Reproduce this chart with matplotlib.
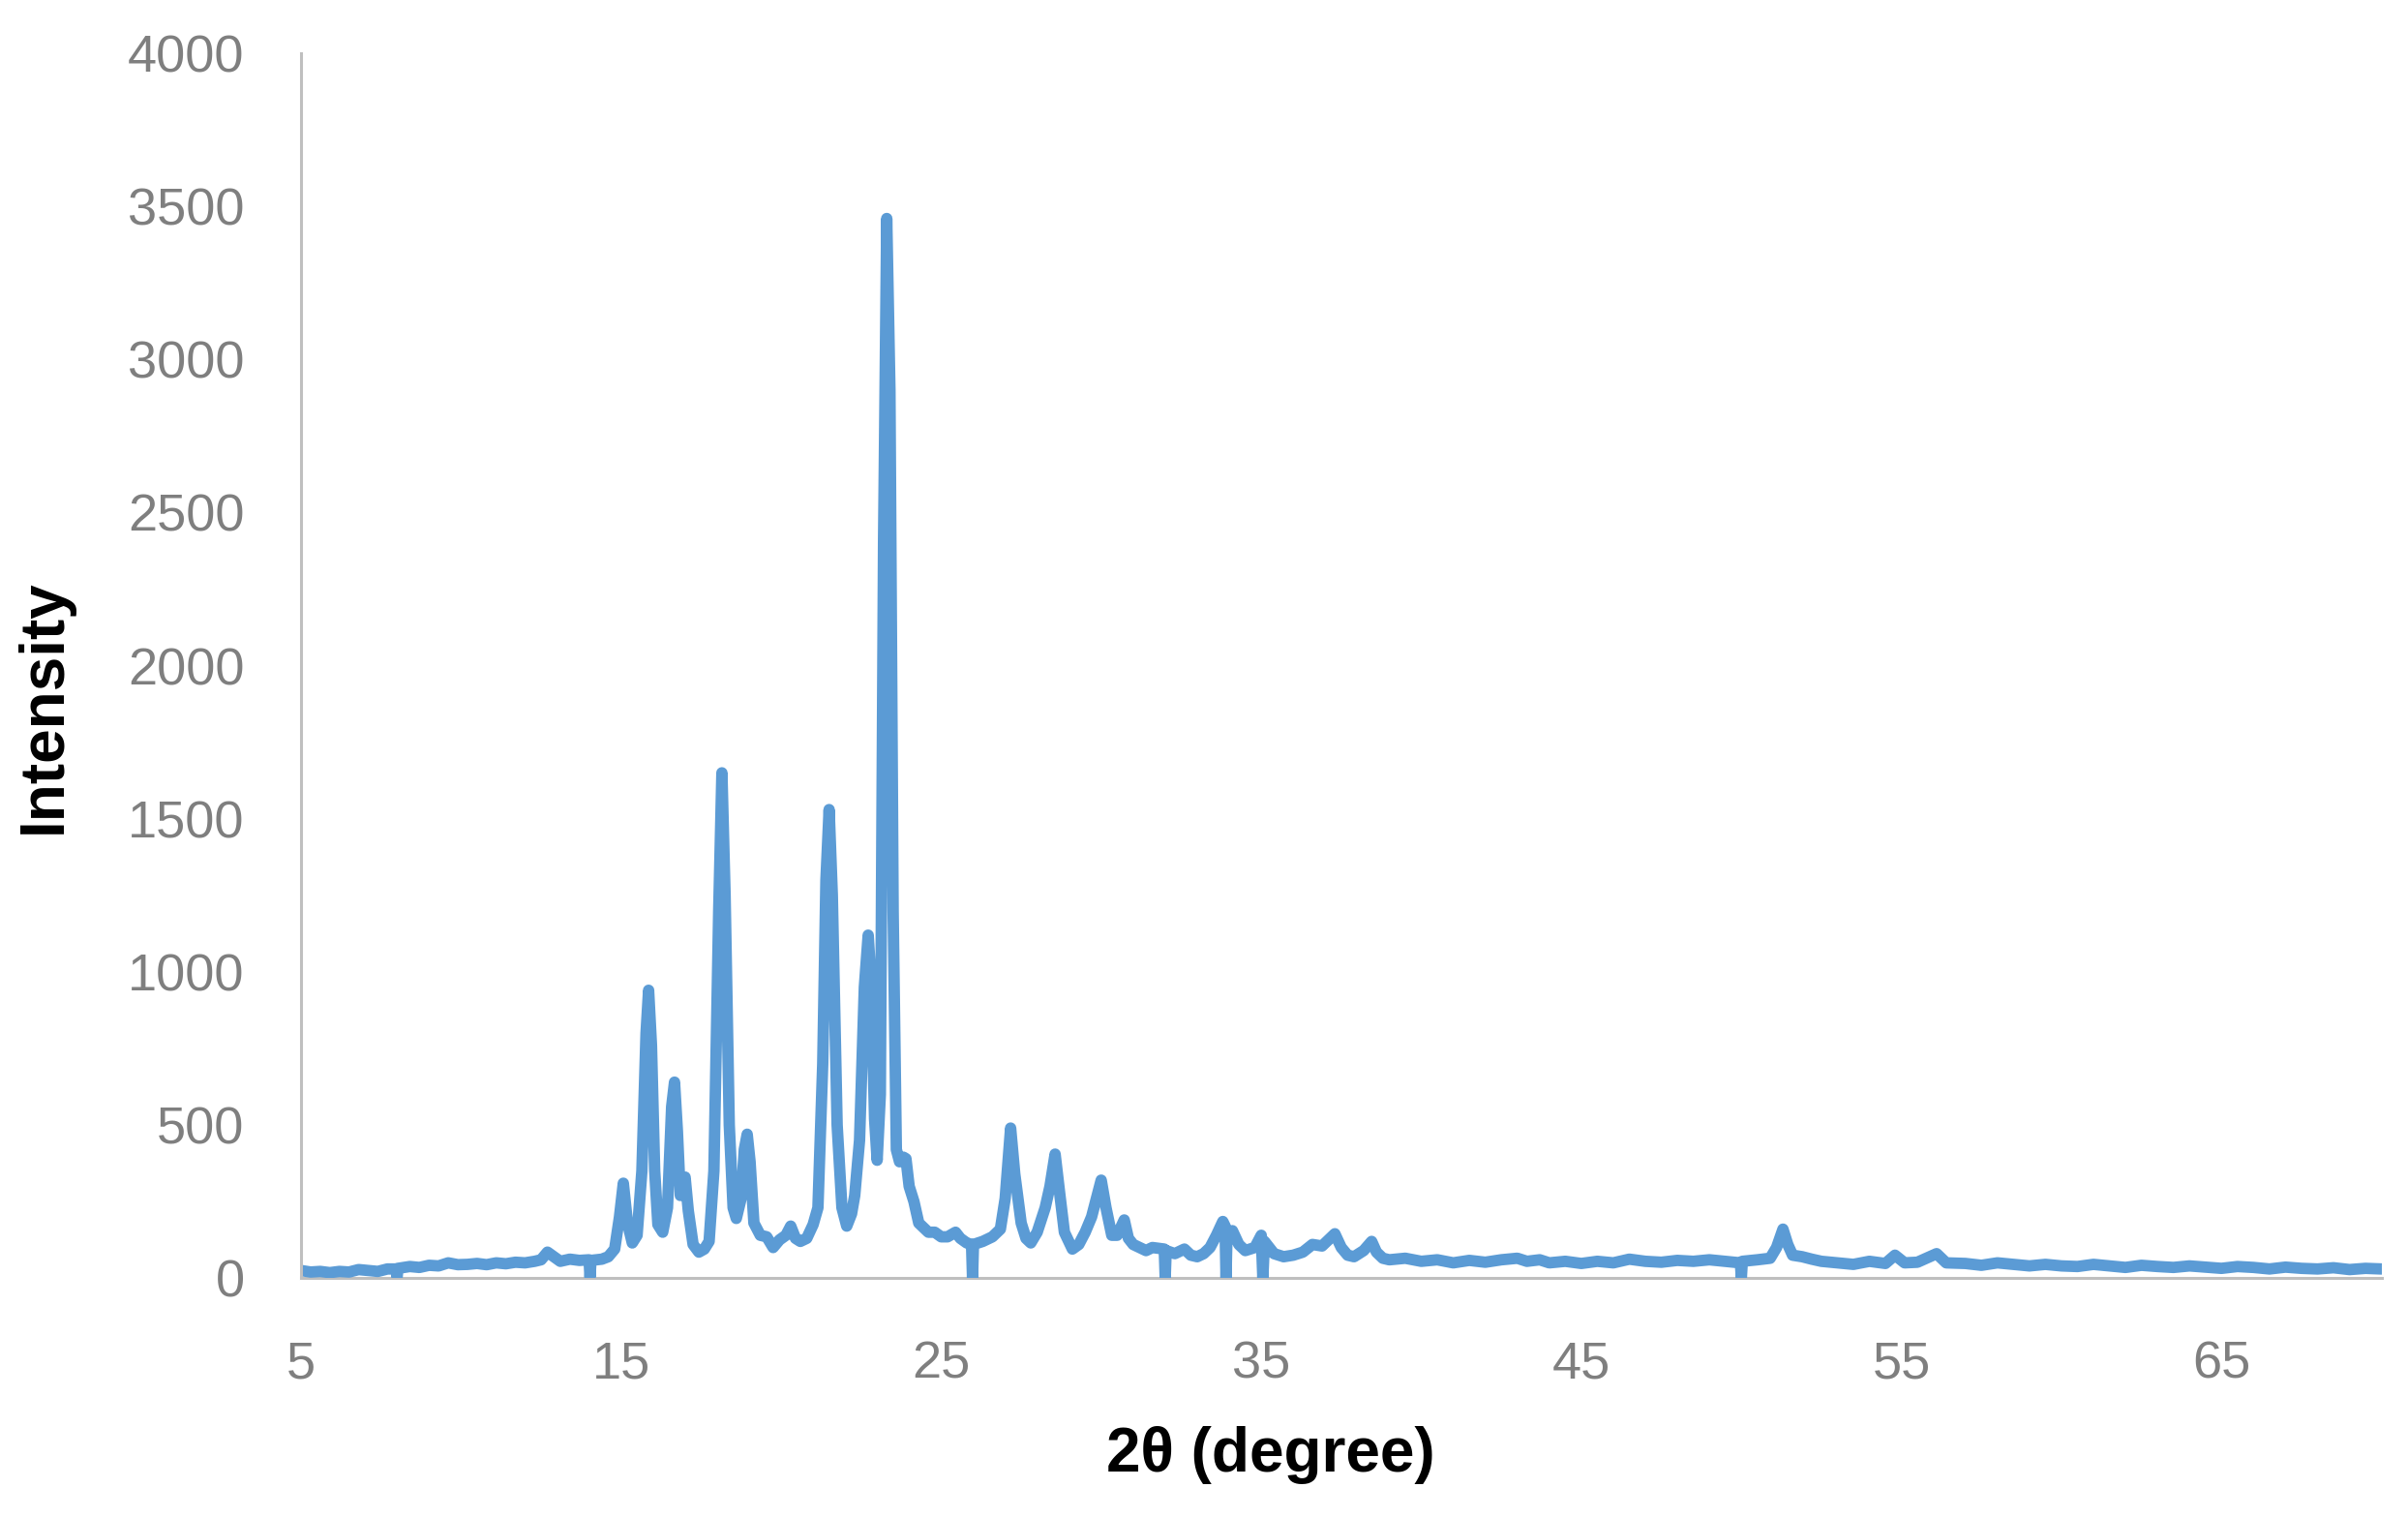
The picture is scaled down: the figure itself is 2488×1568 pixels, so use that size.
import numpy as np
import matplotlib
matplotlib.use('Agg')
import matplotlib.pyplot as plt

plt.rcParams['font.family'] = ['Liberation Sans', 'DejaVu Sans']

# XRD pattern: 2theta (degree) and intensity
two_theta = [
    5.0, 5.3, 5.6, 5.9, 6.2, 6.5, 6.8, 7.1, 7.4, 7.7, 7.97, 8.0, 8.03, 8.4, 8.7,
    9.0, 9.3, 9.6, 9.9, 10.2, 10.5, 10.8, 11.1, 11.4, 11.7, 12.0, 12.3, 12.5,
    12.7, 12.9, 13.1, 13.4, 13.7, 14.0, 14.03, 14.06, 14.4, 14.6, 14.8, 14.95,
    15.07, 15.2, 15.35, 15.5, 15.65, 15.78, 15.86, 15.95, 16.05, 16.15, 16.3,
    16.45, 16.58, 16.67, 16.76, 16.85, 16.93, 17.0, 17.1, 17.25, 17.43, 17.6,
    17.75, 17.9, 18.05, 18.15, 18.25, 18.38, 18.5, 18.6, 18.75, 18.85, 18.94,
    19.03, 19.15, 19.35, 19.55, 19.75, 19.95, 20.15, 20.3, 20.45, 20.6, 20.8,
    21.0, 21.15, 21.3, 21.4, 21.5, 21.6, 21.75, 21.9, 22.05, 22.2, 22.3, 22.45,
    22.6, 22.72, 22.82, 22.92, 23.0, 23.1, 23.2, 23.3, 23.4, 23.5, 23.6, 23.7,
    23.82, 23.9, 24.0, 24.15, 24.3, 24.45, 24.6, 24.8, 25.0, 25.2, 25.45, 25.6,
    25.8, 25.95, 25.98, 26.01, 26.3, 26.6, 26.85, 27.0, 27.17, 27.3, 27.5,
    27.65, 27.8, 28.0, 28.25, 28.4, 28.56, 28.7, 28.85, 29.1, 29.3, 29.5, 29.7,
    29.85, 30.0, 30.15, 30.33, 30.5, 30.72, 30.85, 31.0, 31.2, 31.4, 31.6,
    31.97, 32.0, 32.03, 32.3, 32.6, 32.8, 33.0, 33.2, 33.4, 33.6, 33.8, 33.87,
    33.9, 33.93, 34.1, 34.3, 34.5, 34.8, 35.0, 35.05, 35.1, 35.4, 35.7, 36.0,
    36.3, 36.6, 36.9, 37.1, 37.3, 37.5, 37.7, 37.9, 38.2, 38.45, 38.6, 38.8,
    39.0, 39.5, 40.0, 40.5, 41.0, 41.5, 42.0, 42.5, 43.0, 43.3, 43.7, 44.0,
    44.5, 45.0, 45.5, 46.0, 46.5, 47.0, 47.5, 48.0, 48.5, 49.0, 49.5, 49.97,
    50.0, 50.03, 50.5, 50.9, 51.1, 51.3, 51.45, 51.6, 51.9, 52.2, 52.5, 53.0,
    53.5, 54.0, 54.5, 54.8, 55.1, 55.5, 56.1, 56.4, 57.0, 57.5, 58.0, 58.5,
    59.0, 59.5, 60.0, 60.5, 61.0, 61.5, 62.0, 62.5, 63.0, 63.5, 64.0, 64.5,
    65.0, 65.5, 66.0, 66.5, 67.0, 67.5, 68.0, 68.5, 69.0, 69.5, 70.0,
]
intensity = [
    25, 20, 22, 18, 22, 20, 28, 25, 22, 30, 30, 2, 32, 38, 35,
    42, 40, 50, 44, 45, 48, 44, 50, 47, 52, 50, 55, 60,
    85, 70, 55, 62, 58, 60, 2, 58, 62, 70, 95, 200,
    310, 180, 115, 140, 350, 800, 940, 760, 350, 175, 150,
    230, 560, 640, 480, 270, 300, 330, 220, 110, 85, 95,
    120, 350, 1200, 1650, 1250, 500, 230, 195, 260, 420, 470,
    380, 180, 140, 135, 100, 125, 140, 170, 130, 120, 130,
    175, 230, 700, 1300, 1530, 1250, 500, 230, 170, 210, 270, 450,
    950, 1120, 950, 520, 385, 600, 2400, 3460, 2900, 1200, 420, 380,
    395, 390, 300, 250, 180, 165, 150, 150, 135, 135, 150, 130,
    115, 110, 2, 110, 120, 135, 160, 260, 490, 340, 180,
    130, 115, 150, 230, 300, 405, 280, 150, 95, 110, 150, 200,
    260, 320, 230, 140, 140, 190, 130, 110, 100, 90, 100,
    95, 2, 90, 80, 95, 75, 70, 80, 100, 140, 185, 170,
    2, 140, 155, 110, 90, 100, 140, 2, 120, 80, 70, 75,
    85, 110, 105, 125, 145, 100, 75, 70, 90, 120, 85, 65,
    60, 65, 55, 60, 50, 58, 52, 60, 65, 55, 60, 50,
    55, 48, 55, 50, 62, 55, 52, 58, 55, 60, 55, 50,
    2, 55, 60, 65, 100, 160, 110, 75, 70, 62, 55, 50,
    45, 55, 48, 75, 50, 52, 80, 50, 48, 42, 50, 45,
    40, 45, 40, 38, 45, 40, 35, 42, 38, 35, 40, 36,
    32, 38, 35, 30, 36, 32, 30, 34, 28, 32, 30,
]

x_ticks = [5, 15, 25, 35, 45, 55, 65]
y_ticks = [0, 500, 1000, 1500, 2000, 2500, 3000, 3500, 4000]

fig = plt.figure(figsize=(24.88, 15.68), dpi=100)
ax = fig.add_axes([0.125, 0.158, 0.864, 0.807])

ax.plot(two_theta, intensity, color='#5B9BD5', lw=8.5,
        solid_joinstyle='round', solid_capstyle='round')

ax.set_xlim(5, 70)
ax.set_ylim(0, 4000)
ax.set_xticks(x_ticks)
ax.set_yticks(y_ticks)

for side in ['top', 'right']:
    ax.spines[side].set_visible(False)
for side in ['left', 'bottom']:
    ax.spines[side].set_color('#BFBFBF')
    ax.spines[side].set_linewidth(2.2)
ax.spines['bottom'].set_zorder(0)

ax.tick_params(axis='both', length=0, labelsize=39, labelcolor='#7F7F7F')
ax.tick_params(axis='x', pad=46)
ax.tick_params(axis='y', pad=42)

ax.set_xlabel('2θ (degree)', fontsize=46, fontweight='bold')
ax.set_ylabel('Intensity', fontsize=46, fontweight='bold')
ax.xaxis.label.set_verticalalignment('center')
ax.yaxis.label.set_verticalalignment('center')
ax.xaxis.set_label_coords(0.466, -0.1447)
ax.yaxis.set_label_coords(-0.1233, 0.467)

fig.savefig('out.png', dpi=100)
